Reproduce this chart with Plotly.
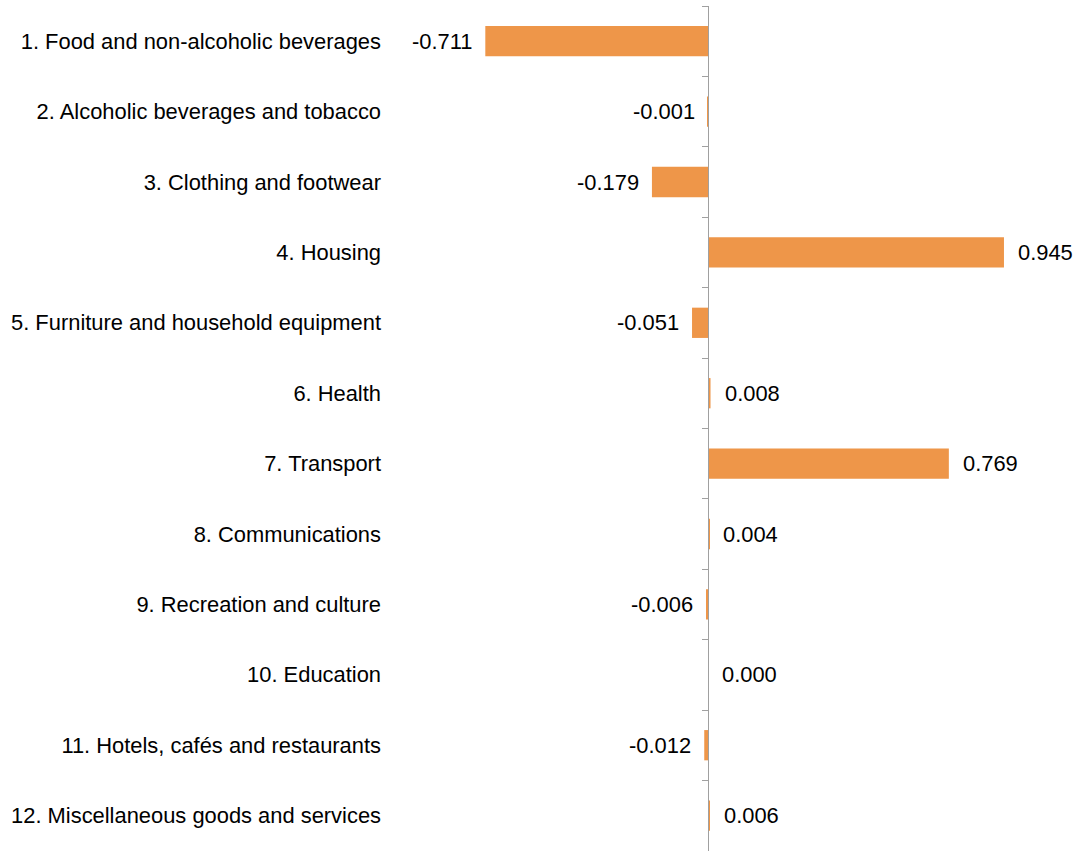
import plotly.graph_objects as go

categories = [
    "1. Food and non-alcoholic beverages",
    "2. Alcoholic beverages and tobacco",
    "3. Clothing and footwear",
    "4. Housing",
    "5. Furniture and household equipment",
    "6. Health",
    "7. Transport",
    "8. Communications",
    "9. Recreation and culture",
    "10. Education",
    "11. Hotels, cafés and restaurants",
    "12. Miscellaneous goods and services",
]
values = [-0.711, -0.001, -0.179, 0.945, -0.051, 0.008, 0.769, 0.004, -0.006, 0.000, -0.012, 0.006]

idx = list(range(len(categories)))
W, H = 1076, 851
L, R, T, B = 382, 0, 6, 0
pw = W - L - R
ph = H - T - B
scale = 313.2          # px per unit on x
row = 70.4             # px per category
zero_px = 708          # zero line position within the figure
xmin = -(zero_px - L) / scale
xmax = xmin + pw / scale
zero_pos = (0 - xmin) / (xmax - xmin)
ytop = -0.5
ybot = ytop + ph / row

FONT = "Liberation Sans, Arial, sans-serif"
fig = go.Figure()
fig.add_trace(go.Bar(
    x=values, y=idx, orientation="h", width=0.43,
    marker=dict(color="#EE9649", line=dict(width=0)),
    hoverinfo="skip",
))
fig.add_trace(go.Scatter(x=[None], y=[None], yaxis="y2", showlegend=False))

for v, i in zip(values, idx):
    fig.add_annotation(
        x=v, y=i, text=f"{v:.3f}", showarrow=False,
        xanchor="left" if v >= 0 else "right",
        xshift=12 if v >= 0 else -11,
        font=dict(family=FONT, size=21.9, color="black"),
    )

fig.update_layout(
    width=W, height=H,
    margin=dict(l=L, r=R, t=T, b=B),
    plot_bgcolor="white", paper_bgcolor="white",
    showlegend=False,
    font=dict(family=FONT, size=21.9, color="black"),
    xaxis=dict(range=[xmin, xmax], visible=False, showgrid=False, zeroline=False),
    yaxis=dict(
        range=[ybot, ytop], tickvals=idx, ticktext=categories,
        showgrid=False, zeroline=False, showline=False, ticks="",
        tickfont=dict(family=FONT, size=21.9, color="black"),
    ),
    yaxis2=dict(
        overlaying="y", anchor="free", position=zero_pos, side="left",
        range=[ybot, ytop], tickvals=[i - 0.5 for i in idx],
        showticklabels=False, ticks="outside", ticklen=6, tickcolor="#A0A0A0",
        tickwidth=1, showline=True, linecolor="#A0A0A0", linewidth=1,
        showgrid=False, zeroline=False,
    ),
)
fig.write_html(
    "out.html",
    config={"displayModeBar": False},
    post_script="document.body.style.margin='0';document.body.style.overflow='hidden';",
)
